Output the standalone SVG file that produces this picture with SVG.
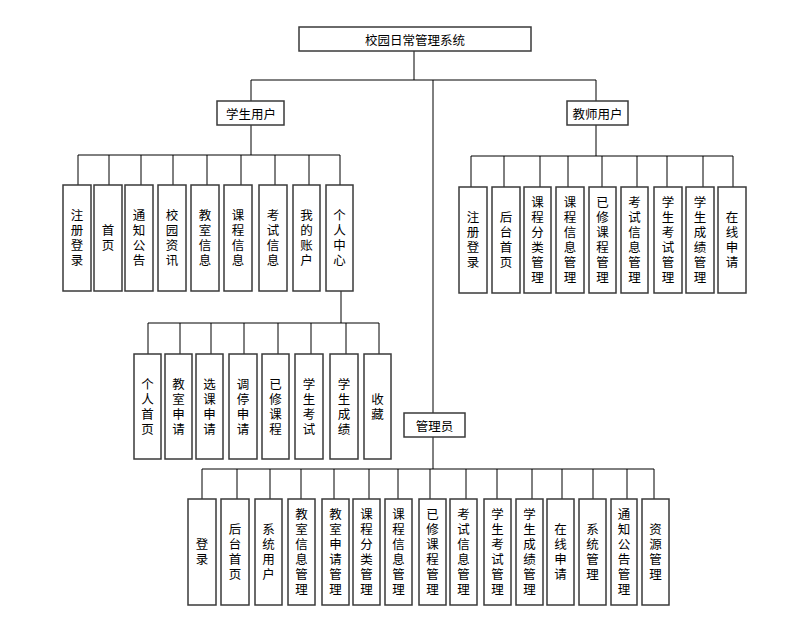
<svg xmlns="http://www.w3.org/2000/svg" width="794" height="623" viewBox="0 0 794 623">
<style>
rect.b{fill:#fff;stroke:#3a3a3a;stroke-width:1.5}
#connectors line{stroke:#000;stroke-width:1}
text{font-family:"Noto Sans CJK SC","Noto Sans",sans-serif;font-size:12.5px;fill:#000;text-anchor:middle;dominant-baseline:central}
text.v{writing-mode:vertical-rl;letter-spacing:2.5px}
</style>
<rect width="794" height="623" fill="#fff"/>
<g id="connectors">
<line x1="414" y1="51" x2="414" y2="80"/>
<line x1="251" y1="80" x2="596" y2="80"/>
<line x1="251" y1="80" x2="251" y2="101"/>
<line x1="596" y1="80" x2="596" y2="101"/>
<line x1="433" y1="80" x2="433" y2="413"/>
<line x1="251" y1="125" x2="251" y2="155"/>
<line x1="78" y1="155" x2="340" y2="155"/>
<line x1="78" y1="155" x2="78" y2="185"/>
<line x1="109" y1="155" x2="109" y2="185"/>
<line x1="141" y1="155" x2="141" y2="185"/>
<line x1="173" y1="155" x2="173" y2="185"/>
<line x1="207" y1="155" x2="207" y2="185"/>
<line x1="241" y1="155" x2="241" y2="185"/>
<line x1="275" y1="155" x2="275" y2="185"/>
<line x1="309" y1="155" x2="309" y2="185"/>
<line x1="340" y1="155" x2="340" y2="185"/>
<line x1="596" y1="125" x2="596" y2="156"/>
<line x1="471" y1="156" x2="733" y2="156"/>
<line x1="471" y1="156" x2="471" y2="187"/>
<line x1="504" y1="156" x2="504" y2="187"/>
<line x1="540" y1="156" x2="540" y2="187"/>
<line x1="568" y1="156" x2="568" y2="187"/>
<line x1="602" y1="156" x2="602" y2="187"/>
<line x1="637" y1="156" x2="637" y2="187"/>
<line x1="667" y1="156" x2="667" y2="187"/>
<line x1="703" y1="156" x2="703" y2="187"/>
<line x1="733" y1="156" x2="733" y2="187"/>
<line x1="341" y1="291" x2="341" y2="323"/>
<line x1="148" y1="323" x2="379" y2="323"/>
<line x1="148" y1="323" x2="148" y2="354"/>
<line x1="180" y1="323" x2="180" y2="354"/>
<line x1="211" y1="323" x2="211" y2="354"/>
<line x1="244" y1="323" x2="244" y2="354"/>
<line x1="278" y1="323" x2="278" y2="354"/>
<line x1="311" y1="323" x2="311" y2="354"/>
<line x1="346" y1="323" x2="346" y2="354"/>
<line x1="379" y1="323" x2="379" y2="354"/>
<line x1="433" y1="437" x2="433" y2="469"/>
<line x1="202" y1="469" x2="654" y2="469"/>
<line x1="202" y1="469" x2="202" y2="499"/>
<line x1="237" y1="469" x2="237" y2="499"/>
<line x1="270" y1="469" x2="270" y2="499"/>
<line x1="301" y1="469" x2="301" y2="499"/>
<line x1="334" y1="469" x2="334" y2="499"/>
<line x1="369" y1="469" x2="369" y2="499"/>
<line x1="398" y1="469" x2="398" y2="499"/>
<line x1="430" y1="469" x2="430" y2="499"/>
<line x1="466" y1="469" x2="466" y2="499"/>
<line x1="497" y1="469" x2="497" y2="499"/>
<line x1="532" y1="469" x2="532" y2="499"/>
<line x1="562" y1="469" x2="562" y2="499"/>
<line x1="593" y1="469" x2="593" y2="499"/>
<line x1="627" y1="469" x2="627" y2="499"/>
<line x1="654" y1="469" x2="654" y2="499"/>
</g>

<g id="root"><rect class="b" x="299" y="27" width="232" height="24"/><text x="415" y="39">校园日常管理系统</text></g>
<g id="student"><rect class="b" x="217" y="101" width="67" height="24"/><text x="251" y="113">学生用户</text></g>
<g id="teacher"><rect class="b" x="567" y="101" width="61" height="24"/><text x="597.5" y="113">教师用户</text></g>
<g id="admin"><rect class="b" x="404" y="413" width="61" height="24"/><text x="434.5" y="425">管理员</text></g>

<!-- student children -->
<g id="s1"><rect class="b" x="63" y="185" width="28" height="106"/><text class="v" x="77" y="239">注册登录</text></g>
<g id="s2"><rect class="b" x="94" y="185" width="28" height="106"/><text class="v" x="108" y="239">首页</text></g>
<g id="s3"><rect class="b" x="125" y="185" width="28" height="106"/><text class="v" x="139" y="239">通知公告</text></g>
<g id="s4"><rect class="b" x="158" y="185" width="28" height="106"/><text class="v" x="172" y="239">校园资讯</text></g>
<g id="s5"><rect class="b" x="191" y="185" width="28" height="106"/><text class="v" x="205" y="239">教室信息</text></g>
<g id="s6"><rect class="b" x="224" y="185" width="28" height="106"/><text class="v" x="238" y="239">课程信息</text></g>
<g id="s7"><rect class="b" x="259" y="185" width="28" height="106"/><text class="v" x="273" y="239">考试信息</text></g>
<g id="s8"><rect class="b" x="293" y="185" width="27" height="106"/><text class="v" x="306.5" y="239">我的账户</text></g>
<g id="s9"><rect class="b" x="326" y="185" width="27" height="106"/><text class="v" x="339.5" y="239">个人中心</text></g>

<!-- teacher children -->
<g id="t1"><rect class="b" x="459" y="187" width="28" height="106"/><text class="v" x="473" y="241">注册登录</text></g>
<g id="t2"><rect class="b" x="492" y="187" width="28" height="106"/><text class="v" x="506" y="241">后台首页</text></g>
<g id="t3"><rect class="b" x="524" y="187" width="27" height="106"/><text class="v" x="537.5" y="241">课程分类管理</text></g>
<g id="t4"><rect class="b" x="556" y="187" width="28" height="106"/><text class="v" x="570" y="241">课程信息管理</text></g>
<g id="t5"><rect class="b" x="589" y="187" width="27" height="106"/><text class="v" x="602.5" y="241">已修课程管理</text></g>
<g id="t6"><rect class="b" x="621" y="187" width="27" height="106"/><text class="v" x="634.5" y="241">考试信息管理</text></g>
<g id="t7"><rect class="b" x="654" y="187" width="28" height="106"/><text class="v" x="668" y="241">学生考试管理</text></g>
<g id="t8"><rect class="b" x="686" y="187" width="28" height="106"/><text class="v" x="700" y="241">学生成绩管理</text></g>
<g id="t9"><rect class="b" x="718" y="187" width="28" height="106"/><text class="v" x="732" y="241">在线申请</text></g>

<!-- personal center children -->
<g id="p1"><rect class="b" x="134" y="354" width="27" height="105"/><text class="v" x="147.5" y="407.5">个人首页</text></g>
<g id="p2"><rect class="b" x="165" y="354" width="27" height="105"/><text class="v" x="178.5" y="407.5">教室申请</text></g>
<g id="p3"><rect class="b" x="196" y="354" width="27" height="105"/><text class="v" x="209.5" y="407.5">选课申请</text></g>
<g id="p4"><rect class="b" x="229" y="354" width="28" height="105"/><text class="v" x="243" y="407.5">调停申请</text></g>
<g id="p5"><rect class="b" x="262" y="354" width="27" height="105"/><text class="v" x="275.5" y="407.5">已修课程</text></g>
<g id="p6"><rect class="b" x="295" y="354" width="28" height="105"/><text class="v" x="309" y="407.5">学生考试</text></g>
<g id="p7"><rect class="b" x="330" y="354" width="28" height="105"/><text class="v" x="344" y="407.5">学生成绩</text></g>
<g id="p8"><rect class="b" x="364" y="354" width="27" height="105"/><text class="v" x="377.5" y="407.5">收藏</text></g>

<!-- admin children -->
<g id="a1"><rect class="b" x="188" y="499" width="28" height="106"/><text class="v" x="202" y="553">登录</text></g>
<g id="a2"><rect class="b" x="221" y="499" width="28" height="106"/><text class="v" x="235" y="553">后台首页</text></g>
<g id="a3"><rect class="b" x="255" y="499" width="27" height="106"/><text class="v" x="268.5" y="553">系统用户</text></g>
<g id="a4"><rect class="b" x="288" y="499" width="27" height="106"/><text class="v" x="301.5" y="553">教室信息管理</text></g>
<g id="a5"><rect class="b" x="322" y="499" width="27" height="106"/><text class="v" x="335.5" y="553">教室申请管理</text></g>
<g id="a6"><rect class="b" x="353" y="499" width="27" height="106"/><text class="v" x="366.5" y="553">课程分类管理</text></g>
<g id="a7"><rect class="b" x="385" y="499" width="27" height="106"/><text class="v" x="398.5" y="553">课程信息管理</text></g>
<g id="a8"><rect class="b" x="419" y="499" width="27" height="106"/><text class="v" x="432.5" y="553">已修课程管理</text></g>
<g id="a9"><rect class="b" x="450" y="499" width="27" height="106"/><text class="v" x="463.5" y="553">考试信息管理</text></g>
<g id="a10"><rect class="b" x="484" y="499" width="27" height="106"/><text class="v" x="497.5" y="553">学生考试管理</text></g>
<g id="a11"><rect class="b" x="516" y="499" width="27" height="106"/><text class="v" x="529.5" y="553">学生成绩管理</text></g>
<g id="a12"><rect class="b" x="547" y="499" width="27" height="106"/><text class="v" x="560.5" y="553">在线申请</text></g>
<g id="a13"><rect class="b" x="579" y="499" width="27" height="106"/><text class="v" x="592.5" y="553">系统管理</text></g>
<g id="a14"><rect class="b" x="611" y="499" width="26" height="106"/><text class="v" x="624" y="553">通知公告管理</text></g>
<g id="a15"><rect class="b" x="642" y="499" width="27" height="106"/><text class="v" x="655.5" y="553">资源管理</text></g>
</svg>
